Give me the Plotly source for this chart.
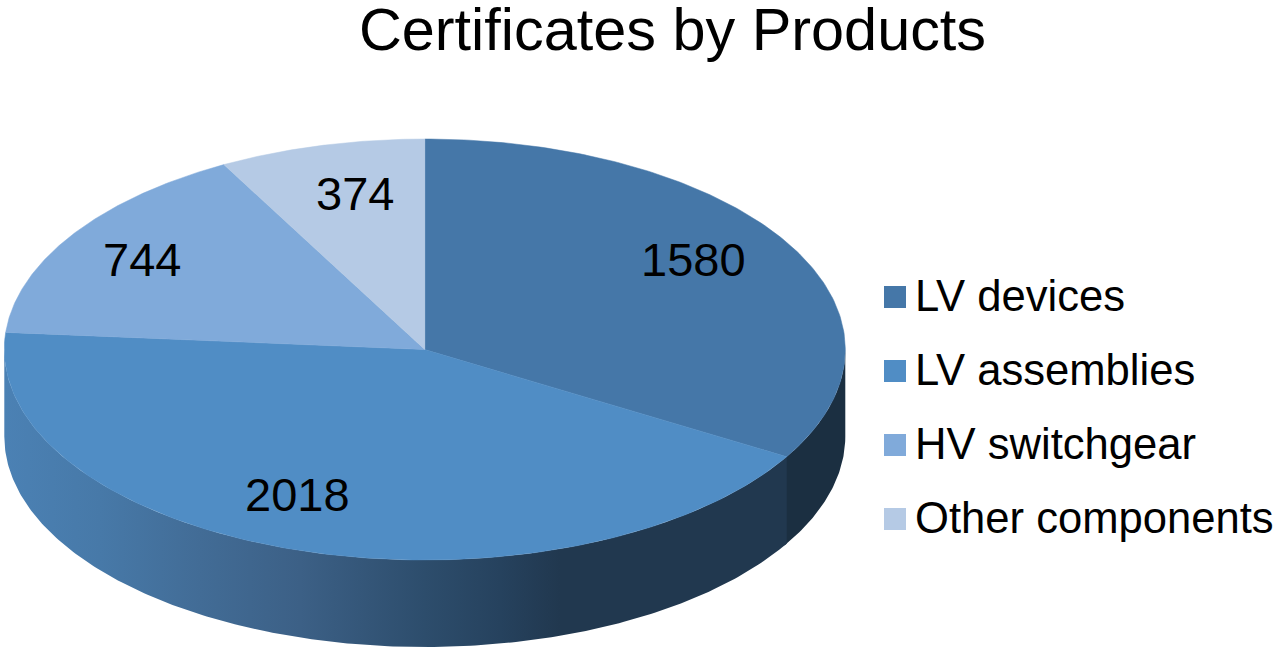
import numpy as np
import plotly.graph_objects as go

# ---- data ----
categories = ["LV devices", "LV assemblies", "HV switchgear", "Other components"]
values = [1580, 2018, 744, 374]
title_text = "Certificates by Products"

# ---- styles and layout (pixels on a 1283x656 canvas) ----
W, H = 1283, 656
CX, CY, RX, RY = 424.8, 349.5, 420.5, 210.5
DEPTH = 87.0
top_colors = ["#4577a8", "#508dc5", "#80aada", "#b5cae5"]
FONT = "Liberation Sans, Arial, sans-serif"
label_xy = [(693, 259), (297, 494), (142, 259), (355, 193)]
legend_x, legend_y0, legend_step, legend_text_x = 895, 297, 74, 916
wall_stops_x = [4, 100, 200, 300, 425, 500, 560, 790]
wall_stops_rgb = [(75, 129, 180), (71, 121, 168), (66, 108, 150), (60, 96, 134),
                  (45, 77, 108), (38, 66, 94), (33, 56, 79), (33, 56, 79)]
wall_dark = "#1b2f41"


def ex(t):
    return CX + RX * np.sin(np.radians(t))


def ey(t, z=0.0):
    return CY - RY * np.cos(np.radians(t)) + z


fracs = np.cumsum([0] + values) / sum(values) * 360.0
fig = go.Figure()

# side wall: only the front half of the ellipse (90..270 degrees) is visible
split = fracs[1]
ts = np.linspace(90, split + 0.6, 60)
fig.add_trace(go.Scatter(
    x=np.concatenate([ex(ts), ex(ts[::-1])]),
    y=np.concatenate([ey(ts), ey(ts[::-1], DEPTH)]),
    mode="lines", line=dict(width=0), fill="toself", fillcolor=wall_dark,
    hoverinfo="skip", showlegend=False))
ts = np.linspace(split, 270, 240)
x0, x1 = wall_stops_x[0], wall_stops_x[-1]
scale = [[(x - x0) / (x1 - x0), "rgb(%d,%d,%d)" % c] for x, c in zip(wall_stops_x, wall_stops_rgb)]
fig.add_trace(go.Scatter(
    x=np.concatenate([ex(ts), ex(ts[::-1])]),
    y=np.concatenate([ey(ts), ey(ts[::-1], DEPTH)]),
    mode="lines", line=dict(width=0), fill="toself",
    fillgradient=dict(type="horizontal", colorscale=scale, start=x0, stop=x1),
    hoverinfo="skip", showlegend=False))

# top face slices
for i, name in enumerate(categories):
    ts = np.linspace(fracs[i], fracs[i + 1], 160)
    xs = np.concatenate([[CX], ex(ts), [CX]])
    ys = np.concatenate([[CY], ey(ts), [CY]])
    fig.add_trace(go.Scatter(x=xs, y=ys, mode="lines", fill="toself", fillcolor=top_colors[i],
                             line=dict(color=top_colors[i], width=0.5), name=name,
                             text=[f"{name}: {values[i]}"] * len(xs), hoverinfo="text", showlegend=False))

# legend swatches
for i, name in enumerate(categories):
    fig.add_trace(go.Scatter(x=[legend_x], y=[legend_y0 + i * legend_step], mode="markers",
                             marker=dict(symbol="square", size=22, color=top_colors[i]),
                             name=name, showlegend=False, hoverinfo="skip"))

annotations = []
for i, name in enumerate(categories):
    annotations.append(dict(x=legend_text_x, y=legend_y0 - 1 + i * legend_step, text=name, showarrow=False,
                            xref="x", yref="y", xanchor="left", yanchor="middle", xshift=-3,
                            font=dict(family=FONT, size=43.6, color="#000000")))
for (lx, ly), v in zip(label_xy, values):
    annotations.append(dict(x=lx, y=ly, text=str(v), showarrow=False, xref="x", yref="y",
                            xanchor="center", yanchor="middle",
                            font=dict(family=FONT, size=47, color="#000000")))

fig.update_layout(
    width=W, height=H, margin=dict(l=0, r=0, t=0, b=0),
    paper_bgcolor="#ffffff", plot_bgcolor="#ffffff", showlegend=False,
    title=dict(text=title_text, x=672.5 / W, xref="paper", xanchor="center",
               y=1 - 29.5 / H, yref="container", yanchor="middle",
               font=dict(family=FONT, size=59.4, color="#000000")),
    xaxis=dict(range=[0, W], visible=False, fixedrange=True),
    yaxis=dict(range=[H, 0], visible=False, fixedrange=True),
    annotations=annotations,
)
fig.write_html("out.html", post_script="document.body.style.margin='0';",
               config={"displayModeBar": False})
